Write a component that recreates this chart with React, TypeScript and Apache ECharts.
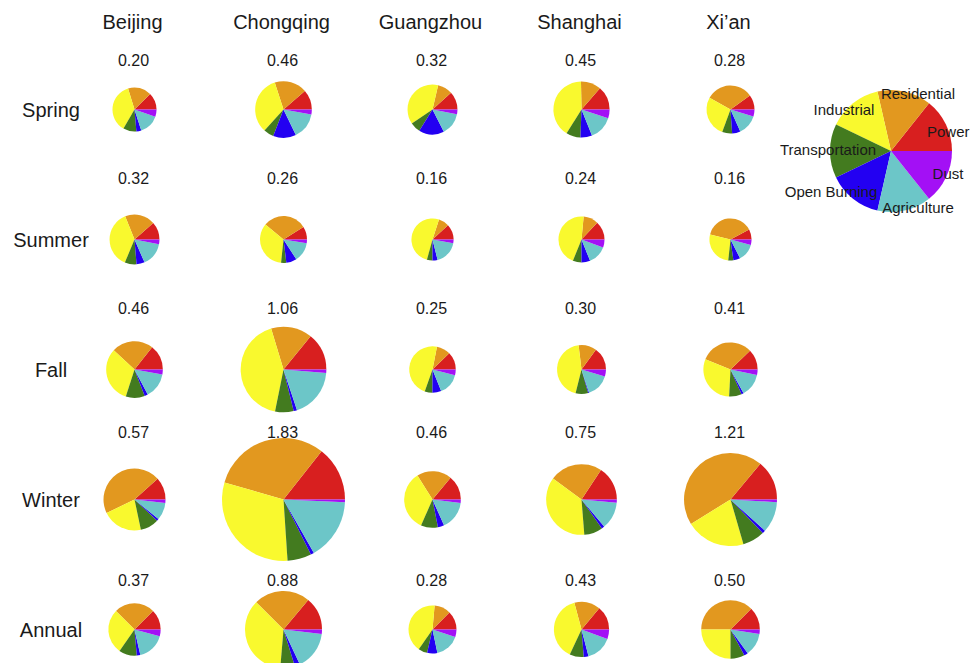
import { useEffect, useRef } from "react";
import * as echarts from "echarts";

const cities = ["Beijing", "Chongqing", "Guangzhou", "Shanghai", "Xi’an"];
const seasons = ["Spring", "Summer", "Fall", "Winter", "Annual"];
const sources = ["Power", "Residential", "Industrial", "Transportation", "Open Burning", "Agriculture", "Dust"];
const sourceColors = ["#d81f1f", "#e2981f", "#f9f92e", "#437b1f", "#2300f2", "#6cc6c8", "#a310f5"];

// Total concentration for each city, one list per season
const springTotals = [0.2, 0.46, 0.32, 0.45, 0.28];
const summerTotals = [0.32, 0.26, 0.16, 0.24, 0.16];
const fallTotals = [0.46, 1.06, 0.25, 0.3, 0.41];
const winterTotals = [0.57, 1.83, 0.46, 0.75, 1.21];
const annualTotals = [0.37, 0.88, 0.28, 0.43, 0.5];

// Source shares (%) per city, in the order of `sources`
const springShares = [
  [12.5, 17.2, 36.9, 9.7, 3.6, 14.7, 5.3],
  [11.4, 18.6, 33.3, 5.8, 13.1, 15.0, 2.8],
  [11.7, 9.7, 38.1, 6.7, 16.4, 14.4, 3.1],
  [13.6, 11.7, 40.8, 8.3, 6.7, 13.9, 5.0],
  [10.0, 31.9, 27.5, 6.7, 5.6, 13.6, 4.7],
];
const summerShares = [
  [11.5, 19.6, 37.6, 7.6, 5.3, 15.3, 3.1],
  [8.9, 30.0, 34.3, 3.6, 7.2, 13.3, 2.5],
  [11.9, 8.1, 50.8, 4.3, 3.9, 18.3, 2.8],
  [13.1, 10.4, 45.4, 6.1, 6.1, 13.3, 5.6],
  [7.8, 38.3, 27.2, 3.9, 5.3, 13.3, 4.2],
];
const fallShares = [
  [14.3, 23.7, 31.9, 10.8, 1.9, 14.4, 2.8],
  [14.1, 15.6, 42.2, 7.0, 1.3, 18.6, 1.3],
  [12.2, 9.7, 47.6, 5.4, 6.1, 15.0, 3.9],
  [15.0, 11.9, 44.2, 8.3, 0.6, 15.3, 4.7],
  [12.2, 31.7, 30.3, 7.5, 1.3, 13.7, 3.3],
];
const winterShares = [
  [11.6, 45.6, 21.1, 9.7, 1.1, 9.1, 1.8],
  [14.4, 31.2, 30.6, 6.3, 0.9, 16.1, 0.7],
  [14.0, 19.9, 34.4, 9.7, 3.6, 16.4, 1.9],
  [15.7, 24.2, 36.3, 8.5, 1.3, 12.4, 1.5],
  [13.9, 44.9, 20.7, 7.7, 1.1, 10.8, 0.9],
];
const annualShares = [
  [12.5, 25.0, 27.8, 11.1, 2.2, 17.2, 4.2],
  [13.9, 23.6, 36.1, 6.1, 2.2, 16.1, 1.9],
  [12.5, 11.1, 41.7, 6.1, 6.9, 16.7, 5.0],
  [13.9, 15.3, 38.9, 8.3, 2.8, 15.3, 5.6],
  [12.5, 37.5, 25.0, 7.8, 2.2, 12.5, 2.5],
];

const totalsBySeason = [springTotals, summerTotals, fallTotals, winterTotals, annualTotals];
const sharesBySeason = [springShares, summerShares, fallShares, winterShares, annualShares];

// Grid layout (pixels)
const colX = [134.5, 283.5, 432.5, 581.5, 730.5];
const rowY = [109.5, 239.5, 369.5, 499.5, 629.5];
const valueY = [60, 178, 308, 432, 580];
const headerY = 22;
const rowLabelX = 51;

// Pie radius grows with the total
const radiusOf = (v: number) => 17.2 + 24.2 * v;

// Key pie
const keyCenter = [891, 151];
const keyRadius = 61;
const keyLabelPos: [number, number, string][] = [
  [927, 131, "left"],
  [918, 93, "center"],
  [844, 109, "center"],
  [828, 149, "center"],
  [831, 191, "center"],
  [918, 207, "center"],
  [948, 173, "center"],
];

const FONT = '"Liberation Sans", Arial, Helvetica, sans-serif';
const TEXT = "#1a1a1a";

function sliceData(shares: number[]) {
  return sources.map((name, k) => ({
    name,
    value: shares[k],
    itemStyle: { color: sourceColors[k] },
  }));
}

export default function App() {
  const ref = useRef<HTMLDivElement>(null);

  useEffect(() => {
    if (!ref.current) return;
    const chart = echarts.init(ref.current, undefined, { renderer: "svg" });

    const series: any[] = [];
    seasons.forEach((_, i) => {
      cities.forEach((_, j) => {
        series.push({
          type: "pie",
          center: [colX[j], rowY[i]],
          radius: radiusOf(totalsBySeason[i][j]),
          startAngle: 0,
          clockwise: false,
          silent: true,
          z: 2,
          label: { show: false },
          labelLine: { show: false },
          emphasis: { disabled: true },
          itemStyle: { borderWidth: 0 },
          data: sliceData(sharesBySeason[i][j]),
        });
      });
    });

    series.push({
      type: "pie",
      center: keyCenter,
      radius: keyRadius,
      startAngle: 0,
      clockwise: false,
      silent: true,
      z: 2,
      label: { show: false },
      labelLine: { show: false },
      emphasis: { disabled: true },
      itemStyle: { borderWidth: 0 },
      data: sources.map((name, k) => ({ name, value: 1, itemStyle: { color: sourceColors[k] } })),
    });

    const text = (t: string, x: number, y: number, size: number, align = "center", z = 0) => ({
      type: "text",
      x,
      y,
      z,
      silent: true,
      style: {
        text: t,
        font: `${size}px ${FONT}`,
        fill: TEXT,
        align,
        verticalAlign: "middle",
        textAlign: align,
        textVerticalAlign: "middle",
      },
    });

    const graphics: any[] = [];
    cities.forEach((c, j) => graphics.push(text(c, colX[j] - 2, headerY, 20)));
    seasons.forEach((s, i) => {
      graphics.push(text(s, rowLabelX, rowY[i], 20));
      cities.forEach((_, j) =>
        graphics.push(text(totalsBySeason[i][j].toFixed(2), colX[j] - 1, valueY[i], 16))
      );
    });
    sources.forEach((s, k) => {
      const [x, y, align] = keyLabelPos[k];
      graphics.push(text(s, x, y, 15, align, 10));
    });

    chart.setOption({
      animation: false,
      backgroundColor: "#ffffff",
      graphic: { elements: graphics },
      series,
    });

    return () => chart.dispose();
  }, []);

  return (
    <div
      ref={ref}
      style={{ position: "fixed", left: 0, top: 0, width: 971, height: 663 }}
    />
  );
}
